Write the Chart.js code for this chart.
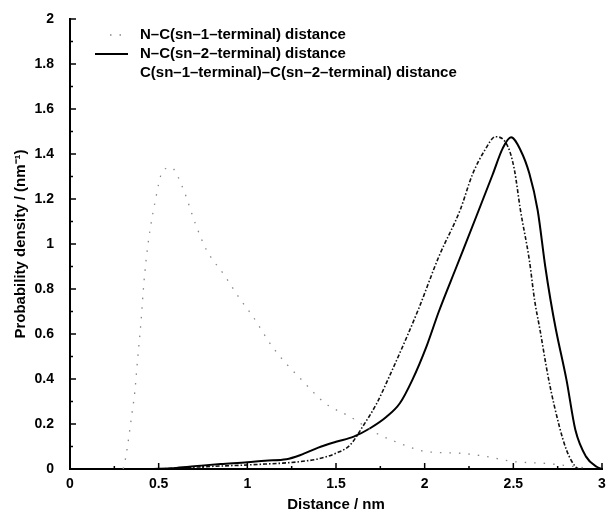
<!DOCTYPE html>
<html lang="en">

<head>
    <meta charset="UTF-8" />
    <title>Distance distributions</title>
    <script src="https://cdn.jsdelivr.net/npm/chart.js"></script>
    <style>
        * {
            margin: 0;
            padding: 0;
            box-sizing: border-box;
        }

        body {
            background: #ffffff;
        }
    </style>
</head>

<body>
    <canvas id="distChart" width="607" height="509"></canvas>

    <script>
        // N-C(sn-1-terminal) distance
        const sn1X = [0.30, 0.315, 0.35, 0.365, 0.38, 0.40, 0.417, 0.44, 0.483, 0.52, 0.57, 0.633, 0.71, 0.77, 0.87, 0.96, 1.026, 1.148, 1.316, 1.44, 1.58, 1.73, 1.86, 2.01, 2.2, 2.35, 2.5, 2.68, 2.8, 2.9];
        const sn1Y = [0.0, 0.055, 0.25, 0.34, 0.477, 0.65, 0.83, 1.0, 1.2, 1.32, 1.34, 1.255, 1.084, 0.973, 0.862, 0.754, 0.684, 0.536, 0.388, 0.292, 0.232, 0.158, 0.114, 0.077, 0.07, 0.055, 0.033, 0.025, 0.015, 0.005];

        // N-C(sn-2-terminal) distance
        const sn2X = [0.45, 0.6, 0.74, 0.85, 1.0, 1.1, 1.22, 1.3, 1.4, 1.5, 1.6, 1.69, 1.785, 1.86, 1.93, 2.01, 2.08, 2.18, 2.29, 2.384, 2.44, 2.487, 2.54, 2.59, 2.637, 2.68, 2.71, 2.74, 2.8, 2.85, 2.91, 2.97, 3.0];
        const sn2Y = [0.0, 0.005, 0.015, 0.022, 0.03, 0.037, 0.043, 0.062, 0.095, 0.121, 0.144, 0.18, 0.232, 0.292, 0.395, 0.544, 0.70, 0.9, 1.12, 1.31, 1.425, 1.474, 1.418, 1.314, 1.151, 0.9, 0.75, 0.62, 0.395, 0.173, 0.055, 0.01, 0.0];

        // C(sn-1-terminal)-C(sn-2-terminal) distance
        const ccX = [0.5, 0.75, 1.0, 1.1, 1.2, 1.3, 1.4, 1.5, 1.58, 1.65, 1.73, 1.8, 1.9, 1.97, 2.08, 2.2, 2.27, 2.34, 2.40, 2.47, 2.506, 2.54, 2.59, 2.62, 2.65, 2.70, 2.76, 2.8, 2.85, 2.87];
        const ccY = [0.0, 0.01, 0.018, 0.022, 0.026, 0.033, 0.045, 0.07, 0.107, 0.188, 0.292, 0.41, 0.588, 0.72, 0.944, 1.151, 1.31, 1.418, 1.477, 1.432, 1.33, 1.151, 0.93, 0.75, 0.62, 0.395, 0.188, 0.084, 0.01, 0.0];

        const labels = [
            "N\u2013C(sn\u20131\u2013terminal) distance",
            "N\u2013C(sn\u20132\u2013terminal) distance",
            "C(sn\u20131\u2013terminal)\u2013C(sn\u20132\u2013terminal) distance"
        ];

        const toPoints = (xs, ys) => xs.map((x, i) => ({ x: x, y: ys[i] }));
        const FONT = "'Liberation Sans', Arial, sans-serif";
        const fmt = (v) => String(Math.round(v * 10) / 10);

        // inward ticks (major + minor) on both axes
        const inwardTicks = {
            id: 'inwardTicks',
            afterDatasetsDraw(chart) {
                const { ctx, scales: { x, y } } = chart;
                ctx.save();
                ctx.strokeStyle = "#000";
                ctx.lineWidth = 1.5;
                for (let i = 0; i <= 20; i++) {
                    const py = y.getPixelForValue(i / 10);
                    const len = i % 2 === 0 ? 6 : 3;
                    ctx.beginPath();
                    ctx.moveTo(x.left, py);
                    ctx.lineTo(x.left + len, py);
                    ctx.stroke();
                }
                for (let i = 0; i <= 12; i++) {
                    const px = x.getPixelForValue(i / 4);
                    const len = i % 2 === 0 ? 6 : 3;
                    ctx.beginPath();
                    ctx.moveTo(px, y.bottom);
                    ctx.lineTo(px, y.bottom - len);
                    ctx.stroke();
                }
                ctx.restore();
            }
        };

        // legend inside the plot, top left
        const insideLegend = {
            id: 'insideLegend',
            afterDraw(chart) {
                const { ctx } = chart;
                ctx.save();
                ctx.font = "bold 15px " + FONT;
                ctx.fillStyle = "#000";
                ctx.textBaseline = "middle";
                chart.data.datasets.forEach((ds, i) => {
                    const yy = 35 + i * 19;
                    if (i < 2) {
                        ctx.strokeStyle = ds.borderColor;
                        ctx.lineWidth = ds.borderWidth;
                        ctx.setLineDash(ds.borderDash || []);
                        ctx.beginPath();
                        ctx.moveTo(i === 0 ? 110 : 95, yy);
                        ctx.lineTo(128, yy);
                        ctx.stroke();
                        ctx.setLineDash([]);
                    }
                    ctx.fillText(ds.label, 140, yy);
                });
                ctx.restore();
            }
        };

        const ctx = document.getElementById("distChart").getContext("2d");
        const distChart = new Chart(ctx, {
            type: "scatter",
            data: {
                datasets: [
                    {
                        label: labels[0],
                        data: toPoints(sn1X, sn1Y),
                        borderColor: "#888",
                        borderWidth: 1.3,
                        borderDash: [1.5, 8],
                        showLine: true,
                        pointRadius: 0,
                        cubicInterpolationMode: "monotone"
                    },
                    {
                        label: labels[1],
                        data: toPoints(sn2X, sn2Y),
                        borderColor: "#000",
                        borderWidth: 2,
                        showLine: true,
                        pointRadius: 0,
                        cubicInterpolationMode: "monotone"
                    },
                    {
                        label: labels[2],
                        data: toPoints(ccX, ccY),
                        borderColor: "#111",
                        borderWidth: 1.6,
                        borderDash: [4, 2, 1.5, 2],
                        showLine: true,
                        pointRadius: 0,
                        cubicInterpolationMode: "monotone"
                    }
                ]
            },
            options: {
                responsive: false,
                animation: false,
                devicePixelRatio: 1,
                layout: { padding: { top: 19, right: 5, left: 0, bottom: 0 } },
                scales: {
                    x: {
                        type: "linear",
                        min: 0,
                        max: 3,
                        ticks: {
                            stepSize: 0.5,
                            autoSkip: false,
                            maxRotation: 0,
                            color: "#000",
                            padding: 7,
                            callback: fmt,
                            font: { family: FONT, size: 14, weight: "bold" }
                        },
                        grid: { display: false, drawTicks: false },
                        border: { display: true, color: "#000", width: 2 },
                        title: {
                            display: true,
                            text: "Distance / nm",
                            color: "#000",
                            padding: { top: 0, bottom: -3 },
                            font: { family: FONT, size: 15, weight: "bold", lineHeight: 1 }
                        },
                        afterFit(scale) {
                            scale.height = 40;
                            scale.paddingLeft = 0;
                            scale.paddingRight = 0;
                        }
                    },
                    y: {
                        type: "linear",
                        min: 0,
                        max: 2,
                        ticks: {
                            stepSize: 0.2,
                            autoSkip: false,
                            color: "#000",
                            padding: 16,
                            callback: fmt,
                            font: { family: FONT, size: 14, weight: "bold" }
                        },
                        grid: { display: false, drawTicks: false },
                        border: { display: true, color: "#000", width: 2 },
                        title: {
                            display: true,
                            text: "Probability density / (nm\u207B\u00B9)",
                            color: "#000",
                            padding: { top: 12, bottom: 0 },
                            font: { family: FONT, size: 15, weight: "bold" }
                        },
                        afterFit(scale) {
                            scale.width = 70;
                            scale.paddingTop = 0;
                            scale.paddingBottom = 0;
                        }
                    }
                },
                plugins: {
                    legend: { display: false },
                    tooltip: { enabled: false }
                }
            },
            plugins: [inwardTicks, insideLegend]
        });
    </script>

</body>

</html>
